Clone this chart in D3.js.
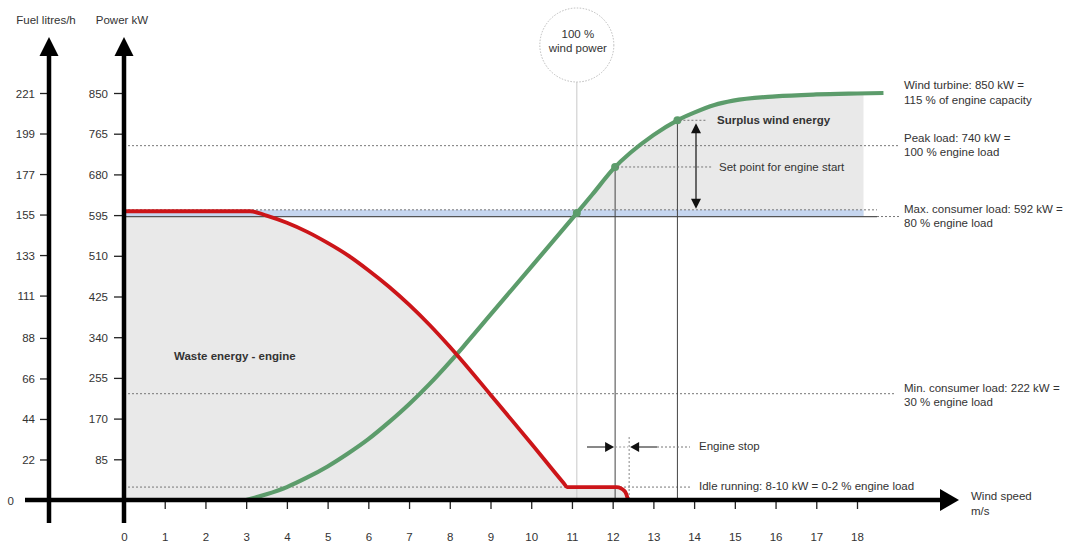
<!DOCTYPE html>
<html>
<head>
<meta charset="utf-8">
<script src="https://cdn.jsdelivr.net/npm/d3@7"></script>
<style>
  html, body { margin: 0; padding: 0; background: #fff; }
  svg { display: block; font-family: "Liberation Sans", Arial, sans-serif; }
  text { fill: #333; font-size: 11.5px; }
</style>
</head>
<body>
<svg id="chart" width="1065" height="546"></svg>
<script>
// Wind speed (m/s) and power (kW) data for the hybrid wind / diesel plant
const windSpeedTicks = d3.range(0, 19);
const powerTicks = [85, 170, 255, 340, 425, 510, 595, 680, 765, 850];
const fuelTicks = [0, 22, 44, 66, 88, 111, 133, 155, 177, 199, 221];

// Engine output as wind rises
const engineSpeed = [0, 3.1, 3.5, 4, 4.5, 5, 5.5, 6, 6.5, 7, 7.5, 8, 8.3, 9, 10, 10.8, 10.88, 12.1, 12.3, 12.38];
const enginePower = [603, 603, 594, 579, 560, 537, 511, 480, 446, 408, 366, 320, 291, 220, 118, 35, 27, 27, 18, 0];

// Wind turbine power curve
const turbineSpeed = [3, 3.5, 4, 4.5, 5, 5.5, 6, 6.5, 7, 7.5, 8, 8.33, 9, 10, 11, 11.5, 12, 13, 13.59, 14, 14.5, 14.96, 16, 17, 18, 18.65];
const turbinePower = [0, 12, 27, 47, 70, 97, 127, 162, 200, 242, 288, 320, 387, 487, 587, 638, 690, 762, 793, 809, 825, 834, 843, 847, 849, 850];

// Load levels (kW)
const peakLoad = 740;
const maxConsumerLoad = 592;
const maxConsumerBand = 606;
const minConsumerLoad = 222;
const idleLoad = 27;

// Key wind speeds (m/s)
const fullWindSpeed = 11.12;
const engineStartSpeed = 12.06;
const surplusSpeed = 13.59;
const engineStopSpeed = 12.38;
const surplusEndSpeed = 18.16;

const svg = d3.select("#chart");
const x = d3.scaleLinear().domain([0, 18]).range([124, 857]);
const y = d3.scaleLinear().domain([0, 850]).range([500, 93]);
const yFuel = d3.scaleLinear().domain([0, 221]).range([500, 93]);

const red = "#cc1519", green = "#5c9c6b", grey = "#e9e9e9", blue = "#c6d6ef";
const dotted = "2,2";

const engineData = engineSpeed.map((s, i) => [s, enginePower[i]]);
const turbineData = turbineSpeed.map((s, i) => [s, turbinePower[i]]);

const defs = svg.append("defs");
defs.append("clipPath").attr("id", "belowMax")
  .append("rect").attr("x", x(0)).attr("y", y(maxConsumerLoad))
  .attr("width", x(18.5) - x(0)).attr("height", y(0) - y(maxConsumerLoad));
defs.append("clipPath").attr("id", "surplusClip")
  .append("rect").attr("x", x(fullWindSpeed)).attr("y", 0)
  .attr("width", x(surplusEndSpeed) - x(fullWindSpeed)).attr("height", y(maxConsumerLoad));

// Waste energy area under the engine curve
svg.append("path")
  .datum(engineData)
  .attr("clip-path", "url(#belowMax)")
  .attr("fill", grey)
  .attr("d", d3.area().x(d => x(d[0])).y0(y(0)).y1(d => y(d[1])).curve(d3.curveMonotoneX));

// Surplus wind energy area
svg.append("path")
  .datum(turbineData)
  .attr("clip-path", "url(#surplusClip)")
  .attr("fill", grey)
  .attr("d", d3.area().x(d => x(d[0])).y0(y(maxConsumerLoad)).y1(d => y(d[1])).curve(d3.curveMonotoneX));

// Max consumer load band
svg.append("rect")
  .attr("x", x(0)).attr("y", y(maxConsumerBand))
  .attr("width", x(surplusEndSpeed) - x(0)).attr("height", y(maxConsumerLoad) - y(maxConsumerBand))
  .attr("fill", blue);

function hline(v, x1, x2, dash, color, w) {
  svg.append("line").attr("x1", x1).attr("x2", x2).attr("y1", y(v)).attr("y2", y(v))
    .attr("stroke", color || "#777").attr("stroke-width", w || 1)
    .attr("stroke-dasharray", dash || null);
}
hline(maxConsumerBand, x(0), 877, dotted);
hline(maxConsumerLoad, x(0), 877, null, "#555", 1.2);
hline(maxConsumerLoad, 877, 900, dotted);
hline(peakLoad, x(0), 900, dotted);
hline(minConsumerLoad, x(0), 896, dotted);
hline(idleLoad, x(0), 690, dotted);

// 100 % wind power marker
svg.append("line").attr("x1", x(fullWindSpeed)).attr("x2", x(fullWindSpeed))
  .attr("y1", 82).attr("y2", y(0)).attr("stroke", "#c8c8c8").attr("stroke-width", 1);
svg.append("circle").attr("cx", x(fullWindSpeed)).attr("cy", 45).attr("r", 37)
  .attr("fill", "#fff").attr("stroke", "#bbb").attr("stroke-dasharray", "1.5,1.5");
svg.append("text").attr("x", x(fullWindSpeed) + 1).attr("y", 35).attr("text-anchor", "middle")
  .attr("dominant-baseline", "middle").text("100 %");
svg.append("text").attr("x", x(fullWindSpeed) + 1).attr("y", 49).attr("text-anchor", "middle")
  .attr("dominant-baseline", "middle").text("wind power");

// Turbine curve
const turbinePath = svg.append("path")
  .datum(turbineData)
  .attr("fill", "none").attr("stroke", green).attr("stroke-width", 4.2)
  .attr("d", d3.line().x(d => x(d[0])).y(d => y(d[1])).curve(d3.curveMonotoneX));

// y value of the turbine curve at a given wind speed, read from the drawn path
function turbineYAt(speed) {
  const node = turbinePath.node();
  const target = x(speed);
  let lo = 0, hi = node.getTotalLength();
  for (let i = 0; i < 40; i++) {
    const mid = (lo + hi) / 2;
    if (node.getPointAtLength(mid).x < target) lo = mid; else hi = mid;
  }
  return node.getPointAtLength(lo).y;
}

const yStart = turbineYAt(engineStartSpeed);
const ySurplus = turbineYAt(surplusSpeed);
const yFull = turbineYAt(fullWindSpeed);

// Engine start / surplus verticals
svg.append("line").attr("x1", x(engineStartSpeed)).attr("x2", x(engineStartSpeed))
  .attr("y1", yStart).attr("y2", y(0)).attr("stroke", "#444").attr("stroke-width", 1);
svg.append("line").attr("x1", x(surplusSpeed)).attr("x2", x(surplusSpeed))
  .attr("y1", ySurplus).attr("y2", y(0)).attr("stroke", "#444").attr("stroke-width", 1);
svg.append("line").attr("x1", x(engineStopSpeed) + 1).attr("x2", x(engineStopSpeed) + 1)
  .attr("y1", 437).attr("y2", y(0)).attr("stroke", "#888").attr("stroke-dasharray", dotted);

// Engine curve
svg.append("path")
  .datum(engineData)
  .attr("fill", "none").attr("stroke", red).attr("stroke-width", 3.8)
  .attr("stroke-linejoin", "round")
  .attr("d", d3.line().x(d => x(d[0])).y(d => y(d[1])).curve(d3.curveMonotoneX));

// Points on the turbine curve
[[fullWindSpeed, yFull], [engineStartSpeed, yStart], [surplusSpeed, ySurplus]].forEach(p => {
  svg.append("circle").attr("cx", x(p[0])).attr("cy", p[1]).attr("r", 4).attr("fill", green);
});

// Leader lines to annotations
svg.append("line").attr("x1", x(engineStartSpeed) + 2).attr("x2", 712).attr("y1", yStart).attr("y2", yStart)
  .attr("stroke", "#777").attr("stroke-dasharray", dotted);
svg.append("line").attr("x1", x(surplusSpeed) + 2).attr("x2", 707).attr("y1", ySurplus).attr("y2", ySurplus)
  .attr("stroke", "#777").attr("stroke-dasharray", dotted);

// Arrow heads
function arrowHead(tx, ty, dir, len, half) {
  let pts;
  if (dir === "right") pts = [[tx, ty], [tx - len, ty - half], [tx - len, ty + half]];
  if (dir === "left") pts = [[tx, ty], [tx + len, ty - half], [tx + len, ty + half]];
  if (dir === "up") pts = [[tx, ty], [tx - half, ty + len], [tx + half, ty + len]];
  if (dir === "down") pts = [[tx, ty], [tx - half, ty - len], [tx + half, ty - len]];
  svg.append("path").attr("d", "M" + pts.map(p => p.join(",")).join("L") + "Z").attr("fill", "#111");
}

// Double arrow between surplus level and max consumer load
const arrX = 696;
svg.append("line").attr("x1", arrX).attr("x2", arrX).attr("y1", ySurplus + 8).attr("y2", y(maxConsumerBand) - 8)
  .attr("stroke", "#111").attr("stroke-width", 1.2);
arrowHead(arrX, ySurplus + 3, "up", 10, 5);
arrowHead(arrX, y(maxConsumerBand) - 1, "down", 10, 5);

// Engine stop arrows
const stopY = 447;
svg.append("line").attr("x1", 587).attr("x2", 606).attr("y1", stopY).attr("y2", stopY).attr("stroke", "#111");
arrowHead(x(engineStartSpeed) - 1, stopY, "right", 9, 5);
svg.append("line").attr("x1", 638).attr("x2", 657).attr("y1", stopY).attr("y2", stopY).attr("stroke", "#111");
arrowHead(x(engineStopSpeed) + 2, stopY, "left", 9, 5);
svg.append("line").attr("x1", x(engineStartSpeed)).attr("x2", x(engineStopSpeed)).attr("y1", stopY).attr("y2", stopY)
  .attr("stroke", "#999").attr("stroke-dasharray", dotted);
svg.append("line").attr("x1", 657).attr("x2", 690).attr("y1", stopY).attr("y2", stopY)
  .attr("stroke", "#777").attr("stroke-dasharray", dotted);

// Annotation texts
function label(tx, ty, str, bold) {
  svg.append("text").attr("x", tx).attr("y", ty).attr("dominant-baseline", "middle")
    .attr("font-weight", bold ? "bold" : null).text(str);
}
label(699, stopY, "Engine stop");
label(699, y(idleLoad), "Idle running: 8-10 kW = 0-2 % engine load");
label(719, yStart + 1, "Set point for engine start");
label(717, ySurplus + 1, "Surplus wind energy", true);
label(174, 357, "Waste energy - engine", true);

label(904, 86, "Wind turbine: 850 kW =");
label(904, 101, "115 % of engine capacity");
label(904, 139, "Peak load: 740 kW =");
label(904, 153, "100 % engine load");
label(904, 210, "Max. consumer load: 592 kW =");
label(904, 224, "80 % engine load");
label(904, 389, "Min. consumer load: 222 kW =");
label(904, 403, "30 % engine load");
label(971, 497, "Wind speed");
label(971, 512, "m/s");

// Axes: ticks and labels
const powerAxis = svg.append("g").attr("transform", "translate(122,0)")
  .call(d3.axisLeft(y).tickValues(powerTicks).tickSize(8).tickPadding(6).tickSizeOuter(0));
const fuelAxis = svg.append("g").attr("transform", "translate(47,0)")
  .call(d3.axisLeft(yFuel).tickValues(fuelTicks).tickSize(7).tickPadding(5).tickSizeOuter(0));
fuelAxis.selectAll(".tick").filter(d => d === 0).select("text").attr("x", -33);
const xAxis = svg.append("g").attr("transform", "translate(0,500)")
  .call(d3.axisBottom(x).tickValues(windSpeedTicks).tickSize(9).tickPadding(24).tickSizeOuter(0));
[powerAxis, fuelAxis, xAxis].forEach(g => {
  g.select(".domain").remove();
  g.selectAll(".tick line").attr("stroke", "#222").attr("stroke-width", 1.3);
  g.selectAll(".tick text").attr("fill", "#333").attr("font-size", 11.5)
    .attr("font-family", "\"Liberation Sans\", Arial, sans-serif");
});
fuelAxis.selectAll(".tick text").attr("dy", "0.35em");
powerAxis.selectAll(".tick text").attr("dy", "0.35em");

// Axis lines with arrow heads
svg.append("line").attr("x1", 25).attr("x2", 942).attr("y1", y(0)).attr("y2", y(0))
  .attr("stroke", "#000").attr("stroke-width", 4.5);
svg.append("path").attr("d", `M959,${y(0)}L940,${y(0) - 11}L940,${y(0) + 11}Z`).attr("fill", "#000");
[49, 124].forEach(ax => {
  svg.append("line").attr("x1", ax).attr("x2", ax).attr("y1", 52).attr("y2", 523)
    .attr("stroke", "#000").attr("stroke-width", 4.5);
  svg.append("path").attr("d", `M${ax},37L${ax - 9.5},56L${ax + 9.5},56Z`).attr("fill", "#000");
});

// Axis titles
svg.append("text").attr("x", 46).attr("y", 21).attr("text-anchor", "middle")
  .attr("dominant-baseline", "middle").text("Fuel litres/h");
svg.append("text").attr("x", 122).attr("y", 21).attr("text-anchor", "middle")
  .attr("dominant-baseline", "middle").text("Power kW");
</script>
</body>
</html>
